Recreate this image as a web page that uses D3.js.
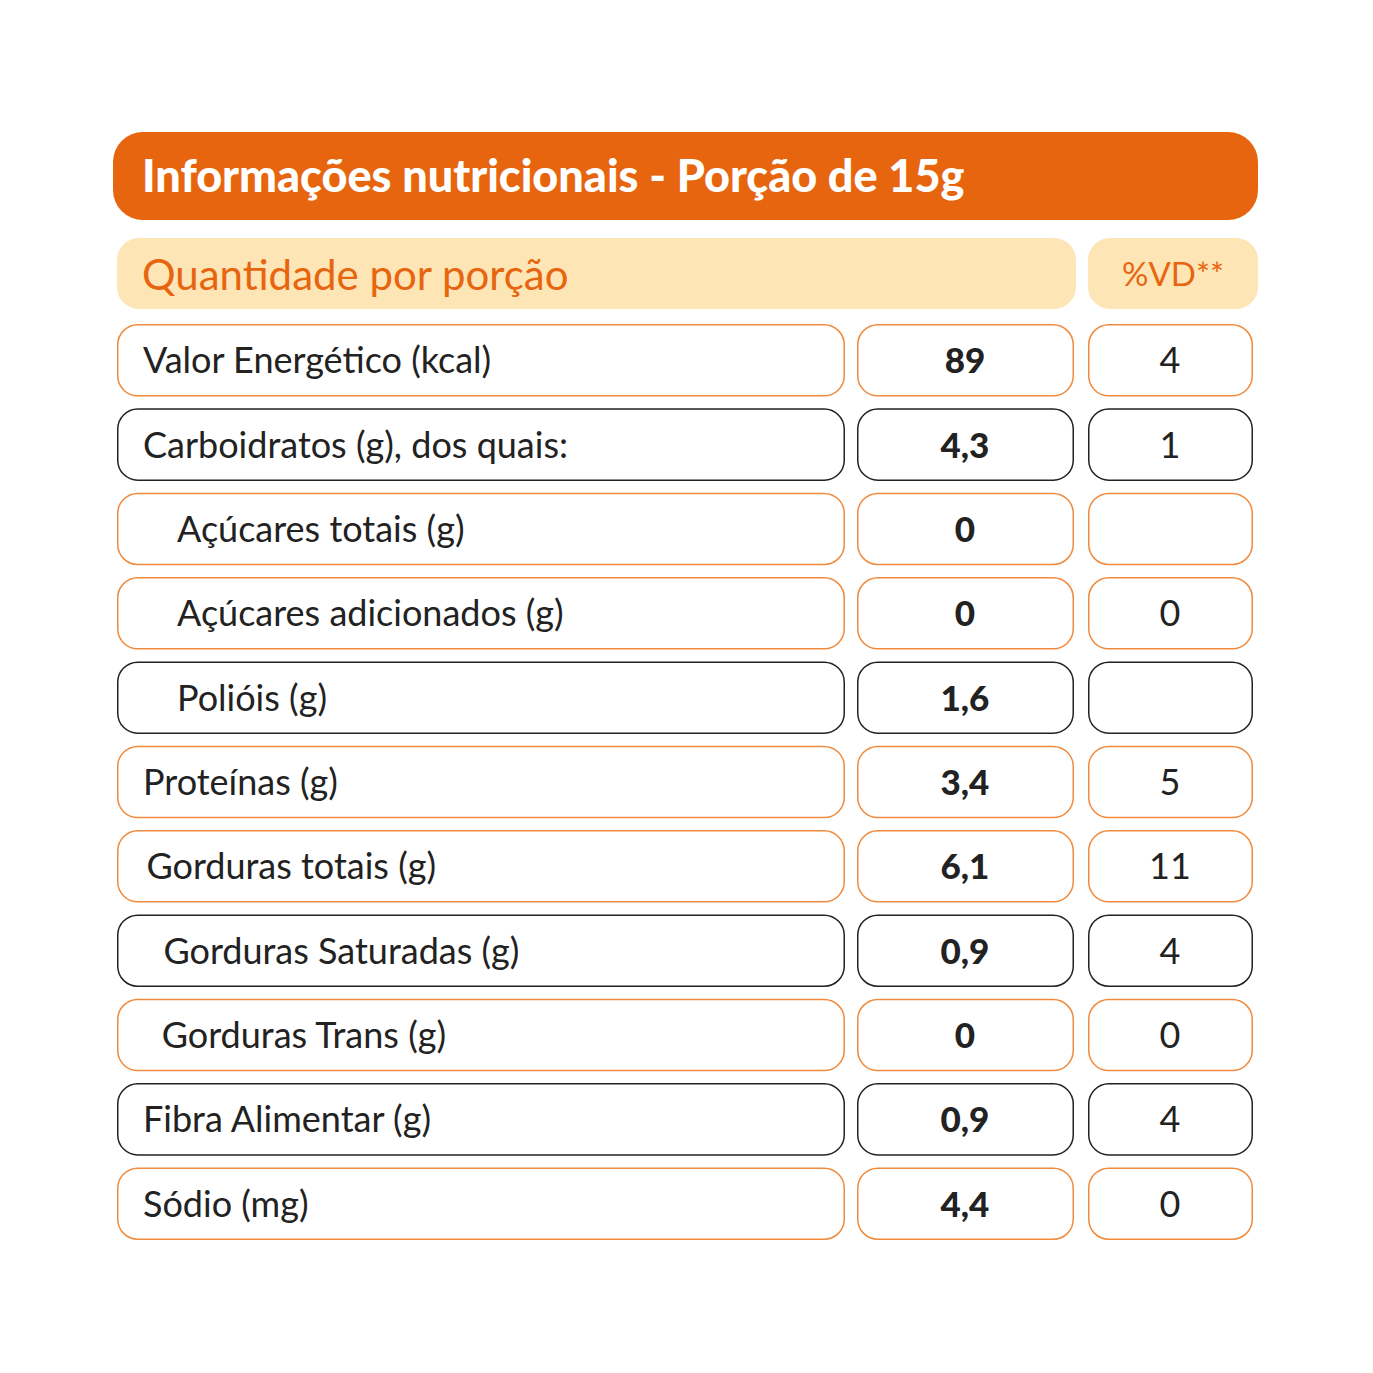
<!DOCTYPE html>
<html><head><meta charset="utf-8">
<script src="https://cdn.jsdelivr.net/npm/d3@7"></script>
<style>body{margin:0;background:#fff}</style></head>
<body><svg id="c" width="1373" height="1373"></svg>
<script>
const title = "Informações nutricionais - Porção de 15g";
const subLabel = "Quantidade por porção";
const vdLabel = "%VD**";
const labels = ["Valor Energético (kcal)","Carboidratos (g), dos quais:","Açúcares totais (g)","Açúcares adicionados (g)","Polióis (g)","Proteínas (g)","Gorduras totais (g)","Gorduras Saturadas (g)","Gorduras Trans (g)","Fibra Alimentar (g)","Sódio (mg)"];
const amounts = ["89","4,3","0","0","1,6","3,4","6,1","0,9","0","0,9","4,4"];
const vd = ["4","1","","0","","5","11","4","0","4","0"];
const indent = [0,0,1,1,1,0,0.1,0.6,0.55,0,0];
const dark = [false,true,false,false,true,false,false,true,false,true,false];

const ORANGE="#E8650F", LINE="#F08A3C", PEACH="#FDE5B6";
const svg=d3.select("#c");
const font="Lato, 'Open Sans', sans-serif";

svg.append("rect").attr("x",113).attr("y",132).attr("width",1145).attr("height",88).attr("rx",30).attr("fill",ORANGE);
svg.append("text").attr("x",142).attr("y",192).attr("fill","#fff").attr("font-family",font).attr("font-weight",900).attr("font-size",45).text(title);

svg.append("rect").attr("x",117).attr("y",238).attr("width",959).attr("height",71).attr("rx",22).attr("fill",PEACH);
svg.append("rect").attr("x",1088).attr("y",238).attr("width",170).attr("height",71).attr("rx",22).attr("fill",PEACH);
svg.append("text").attr("x",142).attr("y",290).attr("fill",ORANGE).attr("font-family",font).attr("font-size",42).text(subLabel);
svg.append("text").attr("x",1173).attr("y",286).attr("text-anchor","middle").attr("fill",ORANGE).attr("font-family",font).attr("font-size",33).text(vdLabel);

const y=d3.scaleBand().domain(d3.range(labels.length)).range([324,1240]).paddingInner(0.14);
const cols=[{x:117,w:728},{x:857,w:217},{x:1088,w:165}];
const g=svg.selectAll("g.row").data(labels).join("g").attr("transform",(d,i)=>`translate(0,${y(i)})`);
cols.forEach(c=>{
  g.append("rect").attr("x",c.x+0.75).attr("y",0.75).attr("width",c.w-1.5).attr("height",y.bandwidth()-1.5).attr("rx",20)
   .attr("fill","none").attr("stroke",(d,i)=>dark[i]?"#222":LINE).attr("stroke-width",1.5);
});
const mid=y.bandwidth()/2+13;
g.append("text").attr("x",(d,i)=>143+indent[i]*34).attr("y",mid).attr("font-family",font).attr("font-size",36).attr("fill","#222").text(d=>d);
g.append("text").attr("x",965).attr("y",mid).attr("text-anchor","middle").attr("font-family",font).attr("font-weight",900).attr("font-size",35).attr("fill","#222").text((d,i)=>amounts[i]);
g.append("text").attr("x",1170).attr("y",mid).attr("text-anchor","middle").attr("font-family",font).attr("font-size",36).attr("fill","#222").text((d,i)=>vd[i]);
</script></body></html>
